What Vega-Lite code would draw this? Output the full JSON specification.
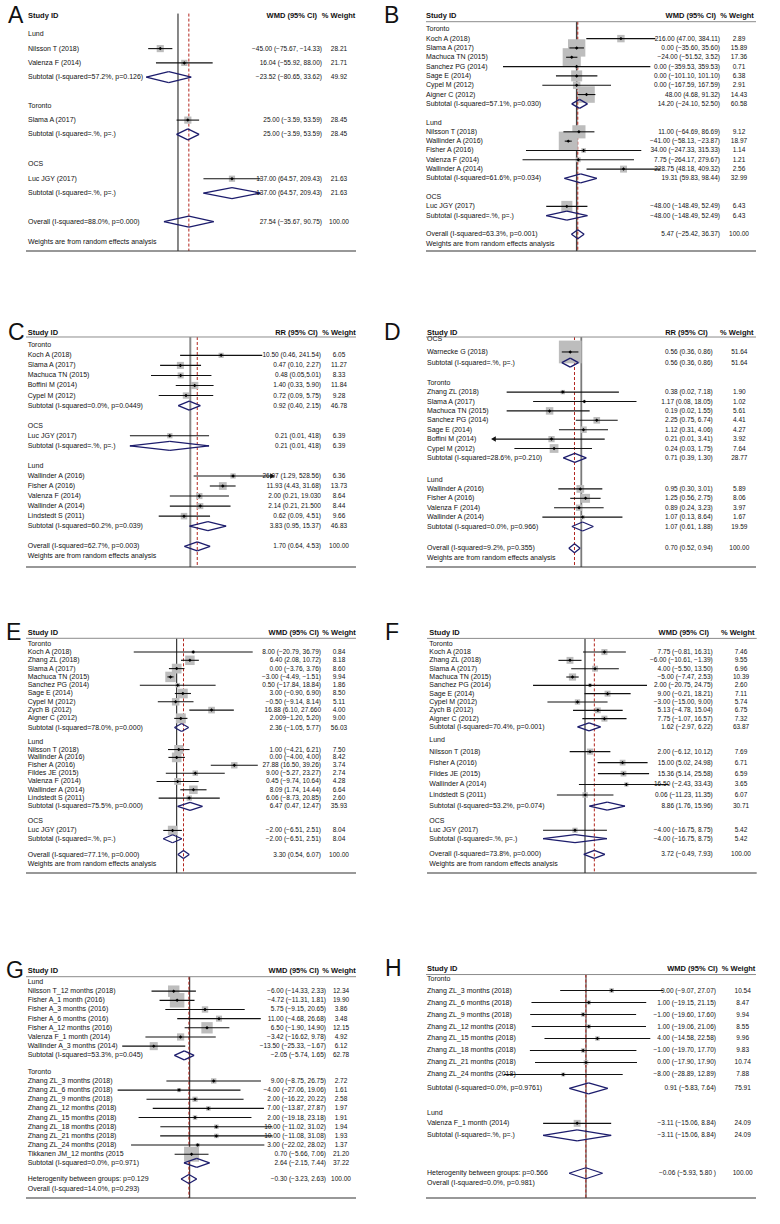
{
"$schema":"https://vega.github.io/schema/vega-lite/v6.json",
"background":"white",
"padding":0,
"autosize":{"type":"pad"},
"bounds":"flush",
"spacing":0,
"columns":2,
"resolve":{"scale":{"size":"independent","x":"independent","y":"independent"}},
"config":{
 "view":{"stroke":"transparent"},
 "text":{"font":"Liberation Sans, Arial, sans-serif","fontSize":6.5,"baseline":"middle","color":"#111"},
 "axis":{"labelFont":"Liberation Sans, Arial, sans-serif","labelFontSize":8.5,"labelColor":"#111","tickColor":"#333","tickSize":5,"labelPadding":4,"domain":false,"grid":false},
 "rule":{"color":"#111","strokeWidth":1.1},
 "point":{"filled":true,"opacity":1}
},
"concat":[
{"width":390,"height":250,
"data":{"values":[
{"row":-1.28,"kind":"header","label":"Study ID","ci":"WMD (95% CI)","wh":"% Weight","panel":"A"},
{"row":0,"kind":"group","label":"Lund"},
{"row":1,"kind":"study","label":"Nilsson T (2018)","est":-45,"lo":-75.67,"hi":-14.33,"w":28.21,"ci":"−45.00 (−75.67, −14.33)"},
{"row":2,"kind":"study","label":"Valenza F (2014)","est":16.04,"lo":-55.92,"hi":88,"w":21.71,"ci":"16.04 (−55.92, 88.00)"},
{"row":3,"kind":"sub","label":"Subtotal (I-squared=57.2%, p=0.126)","est":-23.52,"lo":-80.65,"hi":33.62,"w":49.92,"ci":"−23.52 (−80.65, 33.62)"},
{"row":5,"kind":"group","label":"Toronto"},
{"row":6,"kind":"study","label":"Slama A (2017)","est":25,"lo":-3.59,"hi":53.59,"w":28.45,"ci":"25.00 (−3.59, 53.59)"},
{"row":7,"kind":"sub","label":"Subtotal (I-squared=.%, p=.)","est":25,"lo":-3.59,"hi":53.59,"w":28.45,"ci":"25.00 (−3.59, 53.59)"},
{"row":9.1,"kind":"group","label":"OCS"},
{"row":10.1,"kind":"study","label":"Luc JGY (2017)","est":137,"lo":64.57,"hi":209.43,"w":21.63,"ci":"137.00 (64.57, 209.43)"},
{"row":11.1,"kind":"sub","label":"Subtotal (I-squared=.%, p=.)","est":137,"lo":64.57,"hi":209.43,"w":21.63,"ci":"137.00 (64.57, 209.43)"},
{"row":13.1,"kind":"overall","label":"Overall  (I-squared=88.0%, p=0.000)","est":27.54,"lo":-35.67,"hi":90.75,"w":100,"ci":"27.54 (−35.67, 90.75)"},
{"row":14.5,"kind":"note","label":"Weights are from random effects analysis"}
]},
"encoding":{"y":{"field":"row","type":"quantitative","axis":null,"scale":{"domain":[-2.329,15.154],"reverse":true,"nice":false,"zero":false}}},
"layer":[
{"transform":[{"filter":"datum.kind=='overall'"}],"mark":{"type":"rule","color":"#111","strokeWidth":1},"encoding":{"x":{"datum":0,"type":"quantitative","scale":{"domain":[-449.2,540.6],"nice":false,"zero":false},"axis":{"values":[-209,0,209],"title":null,"labelExpr":"format(datum.value,'d')"}},"y":{"datum":-1.45,"type":"quantitative","axis":null},"y2":{"datum":15.154}}},
{"transform":[{"filter":"datum.kind=='overall'"}],"mark":{"type":"rule","color":"#b3261e","strokeWidth":1,"strokeDash":[3,2]},"encoding":{"x":{"field":"est","type":"quantitative","axis":null},"y":{"datum":-1.45,"type":"quantitative","axis":null},"y2":{"datum":15.154}}},
{"transform":[{"filter":"datum.kind=='header'"}],"mark":{"type":"rule","color":"#333","strokeWidth":1.2},"encoding":{"x":{"datum":-385.8,"type":"quantitative","axis":null},"x2":{"datum":451.8},"y":{"datum":15.154,"type":"quantitative","axis":null}}},
{"transform":[{"filter":"datum.kind=='study'"}],"mark":{"type":"point","shape":"square","color":"#bdbdbd"},"encoding":{"x":{"field":"est","type":"quantitative","axis":null},"size":{"field":"w","type":"quantitative","legend":null,"scale":{"domain":[0,100],"range":[0,180]}}}},
{"transform":[{"filter":"datum.kind=='study'"}],"mark":{"type":"rule"},"encoding":{"x":{"field":"lo","type":"quantitative","axis":null},"x2":{"field":"hi"}}},
{"transform":[{"filter":"datum.kind=='study'"}],"mark":{"type":"point","shape":"diamond","color":"#000","size":12},"encoding":{"x":{"field":"est","type":"quantitative","axis":null}}},
{"transform":[{"filter":"datum.kind=='sub'||datum.kind=='overall'"}],"mark":{"type":"rule","color":"#1c1c6c","strokeWidth":1.3,"y2Offset":-5.5},"encoding":{"x":{"field":"lo","type":"quantitative","axis":null},"x2":{"field":"est"},"y2":{"field":"row"}}},
{"transform":[{"filter":"datum.kind=='sub'||datum.kind=='overall'"}],"mark":{"type":"rule","color":"#1c1c6c","strokeWidth":1.3,"yOffset":-5.5},"encoding":{"x":{"field":"est","type":"quantitative","axis":null},"x2":{"field":"hi"},"y2":{"field":"row"}}},
{"transform":[{"filter":"datum.kind=='sub'||datum.kind=='overall'"}],"mark":{"type":"rule","color":"#1c1c6c","strokeWidth":1.3,"y2Offset":5.5},"encoding":{"x":{"field":"hi","type":"quantitative","axis":null},"x2":{"field":"est"},"y2":{"field":"row"}}},
{"transform":[{"filter":"datum.kind=='sub'||datum.kind=='overall'"}],"mark":{"type":"rule","color":"#1c1c6c","strokeWidth":1.3,"yOffset":5.5},"encoding":{"x":{"field":"est","type":"quantitative","axis":null},"x2":{"field":"lo"},"y2":{"field":"row"}}},
{"transform":[{"filter":"datum.kind!='header'"}],"mark":{"type":"text","align":"left","fontSize":7},"encoding":{"x":{"datum":-380.7,"type":"quantitative","axis":null},"text":{"field":"label"}}},
{"transform":[{"filter":"isValid(datum.ci)&&datum.kind!='header'"}],"mark":{"type":"text","align":"right"},"encoding":{"x":{"datum":365.5,"type":"quantitative","axis":null},"text":{"field":"ci"}}},
{"transform":[{"filter":"isValid(datum.w)"}],"mark":{"type":"text","align":"center"},"encoding":{"x":{"datum":408.6,"type":"quantitative","axis":null},"text":{"field":"w","type":"quantitative","format":".2f"}}},
{"transform":[{"filter":"datum.kind=='header'"}],"mark":{"type":"text","align":"left","fontWeight":"bold","fontSize":7.5},"encoding":{"x":{"datum":-380.7,"type":"quantitative","axis":null},"text":{"field":"label"}}},
{"transform":[{"filter":"datum.kind=='header'"}],"mark":{"type":"text","align":"right","fontWeight":"bold","fontSize":7.5},"encoding":{"x":{"datum":352.8,"type":"quantitative","axis":null},"text":{"field":"ci"}}},
{"transform":[{"filter":"datum.kind=='header'"}],"mark":{"type":"text","align":"center","fontWeight":"bold","fontSize":7.5},"encoding":{"x":{"datum":407.4,"type":"quantitative","axis":null},"text":{"field":"wh"}}},
{"transform":[{"filter":"datum.kind=='header'"}],"mark":{"type":"text","align":"left","fontSize":23},"encoding":{"x":{"datum":-431.5,"type":"quantitative","axis":null},"text":{"field":"panel"}}}
]},
{"width":390,"height":250,
"data":{"values":[
{"row":-1.43,"kind":"header","label":"Study ID","ci":"WMD (95% CI)","wh":"% Weight","panel":"B"},
{"row":0,"kind":"group","label":"Toronto"},
{"row":1,"kind":"study","label":"Koch A (2018)","est":216,"lo":47,"hi":384.11,"w":2.89,"ci":"216.00 (47.00, 384.11)"},
{"row":2,"kind":"study","label":"Slama A (2017)","est":0,"lo":-35.6,"hi":35.6,"w":15.89,"ci":"0.00 (−35.60, 35.60)"},
{"row":3,"kind":"study","label":"Machuca TN (2015)","est":-24,"lo":-51.52,"hi":3.52,"w":17.36,"ci":"−24.00 (−51.52, 3.52)"},
{"row":4,"kind":"study","label":"Sanchez PG (2014)","est":0,"lo":-359.53,"hi":359.53,"w":0.71,"ci":"0.00 (−359.53, 359.53)"},
{"row":5,"kind":"study","label":"Sage E (2014)","est":0,"lo":-101.1,"hi":101.1,"w":6.38,"ci":"0.00 (−101.10, 101.10)"},
{"row":6,"kind":"study","label":"Cypel M (2012)","est":0,"lo":-167.59,"hi":167.59,"w":2.91,"ci":"0.00 (−167.59, 167.59)"},
{"row":7,"kind":"study","label":"Aigner C (2012)","est":48,"lo":4.68,"hi":91.32,"w":14.43,"ci":"48.00 (4.68, 91.32)"},
{"row":8,"kind":"sub","label":"Subtotal (I-squared=57.1%, p=0.030)","est":14.2,"lo":-24.1,"hi":52.5,"w":60.58,"ci":"14.20 (−24.10, 52.50)"},
{"row":10,"kind":"group","label":"Lund"},
{"row":11,"kind":"study","label":"Nilsson T (2018)","est":11,"lo":-64.69,"hi":86.69,"w":9.12,"ci":"11.00 (−64.69, 86.69)"},
{"row":12,"kind":"study","label":"Wallinder A (2016)","est":-41,"lo":-58.13,"hi":-23.87,"w":18.97,"ci":"−41.00 (−58.13, −23.87)"},
{"row":13,"kind":"study","label":"Fisher A (2016)","est":34,"lo":-247.33,"hi":315.33,"w":1.14,"ci":"34.00 (−247.33, 315.33)"},
{"row":14,"kind":"study","label":"Valenza F (2014)","est":7.75,"lo":-264.17,"hi":279.67,"w":1.21,"ci":"7.75 (−264.17, 279.67)"},
{"row":15,"kind":"study","label":"Wallinder A (2014)","est":228.75,"lo":48.18,"hi":409.32,"w":2.56,"ci":"228.75 (48.18, 409.32)"},
{"row":16,"kind":"sub","label":"Subtotal (I-squared=61.6%, p=0.034)","est":19.31,"lo":-59.83,"hi":98.44,"w":32.99,"ci":"19.31 (59.83, 98.44)"},
{"row":18,"kind":"group","label":"OCS"},
{"row":19,"kind":"study","label":"Luc JGY (2017)","est":-48,"lo":-148.49,"hi":52.49,"w":6.43,"ci":"−48.00 (−148.49, 52.49)"},
{"row":20,"kind":"sub","label":"Subtotal (I-squared=.%, p=.)","est":-48,"lo":-148.49,"hi":52.49,"w":6.43,"ci":"−48.00 (−148.49, 52.49)"},
{"row":22,"kind":"overall","label":"Overall  (I-squared=63.3%, p=0.001)","est":5.47,"lo":-25.42,"hi":36.37,"w":100,"ci":"5.47 (−25.42, 36.37)"},
{"row":23,"kind":"note","label":"Weights are from random effects analysis"}
]},
"encoding":{"y":{"field":"row","type":"quantitative","axis":null,"scale":{"domain":[-3.036,23.787],"reverse":true,"nice":false,"zero":false}}},
"layer":[
{"transform":[{"filter":"datum.kind=='overall'"}],"mark":{"type":"rule","color":"#444","strokeWidth":1.5},"encoding":{"x":{"datum":0,"type":"quantitative","scale":{"domain":[-906.1,997.2],"nice":false,"zero":false},"axis":{"values":[-409,0,409],"title":null,"labelExpr":"format(datum.value,'d')"}},"y":{"datum":-0.815,"type":"quantitative","axis":null},"y2":{"datum":23.787}}},
{"transform":[{"filter":"datum.kind=='overall'"}],"mark":{"type":"rule","color":"#b3261e","strokeWidth":1,"strokeDash":[3,2]},"encoding":{"x":{"field":"est","type":"quantitative","axis":null},"y":{"datum":-0.815,"type":"quantitative","axis":null},"y2":{"datum":23.787}}},
{"transform":[{"filter":"datum.kind=='header'"}],"mark":{"type":"rule","color":"#8c8c8c","strokeWidth":1},"encoding":{"x":{"datum":-735.3,"type":"quantitative","axis":null},"x2":{"datum":875.2},"y":{"datum":-0.815,"type":"quantitative","axis":null}}},
{"transform":[{"filter":"datum.kind=='header'"}],"mark":{"type":"rule","color":"#333","strokeWidth":1.2},"encoding":{"x":{"datum":-735.3,"type":"quantitative","axis":null},"x2":{"datum":875.2},"y":{"datum":23.787,"type":"quantitative","axis":null}}},
{"transform":[{"filter":"datum.kind=='study'"}],"mark":{"type":"point","shape":"square","color":"#bdbdbd"},"encoding":{"x":{"field":"est","type":"quantitative","axis":null},"size":{"field":"w","type":"quantitative","legend":null,"scale":{"domain":[0,100],"range":[0,1900]}}}},
{"transform":[{"filter":"datum.kind=='study'"}],"mark":{"type":"rule"},"encoding":{"x":{"field":"lo","type":"quantitative","axis":null},"x2":{"field":"hi"}}},
{"transform":[{"filter":"datum.kind=='study'"}],"mark":{"type":"point","shape":"diamond","color":"#000","size":12},"encoding":{"x":{"field":"est","type":"quantitative","axis":null}}},
{"transform":[{"filter":"datum.kind=='sub'||datum.kind=='overall'"}],"mark":{"type":"rule","color":"#1c1c6c","strokeWidth":1.3,"y2Offset":-4.5},"encoding":{"x":{"field":"lo","type":"quantitative","axis":null},"x2":{"field":"est"},"y2":{"field":"row"}}},
{"transform":[{"filter":"datum.kind=='sub'||datum.kind=='overall'"}],"mark":{"type":"rule","color":"#1c1c6c","strokeWidth":1.3,"yOffset":-4.5},"encoding":{"x":{"field":"est","type":"quantitative","axis":null},"x2":{"field":"hi"},"y2":{"field":"row"}}},
{"transform":[{"filter":"datum.kind=='sub'||datum.kind=='overall'"}],"mark":{"type":"rule","color":"#1c1c6c","strokeWidth":1.3,"y2Offset":4.5},"encoding":{"x":{"field":"hi","type":"quantitative","axis":null},"x2":{"field":"est"},"y2":{"field":"row"}}},
{"transform":[{"filter":"datum.kind=='sub'||datum.kind=='overall'"}],"mark":{"type":"rule","color":"#1c1c6c","strokeWidth":1.3,"yOffset":4.5},"encoding":{"x":{"field":"est","type":"quantitative","axis":null},"x2":{"field":"lo"},"y2":{"field":"row"}}},
{"transform":[{"filter":"datum.kind!='header'"}],"mark":{"type":"text","align":"left","fontSize":7},"encoding":{"x":{"datum":-735.3,"type":"quantitative","axis":null},"text":{"field":"label"}}},
{"transform":[{"filter":"isValid(datum.ci)&&datum.kind!='header'"}],"mark":{"type":"text","align":"right"},"encoding":{"x":{"datum":699.5,"type":"quantitative","axis":null},"text":{"field":"ci"}}},
{"transform":[{"filter":"isValid(datum.w)"}],"mark":{"type":"text","align":"center"},"encoding":{"x":{"datum":792.2,"type":"quantitative","axis":null},"text":{"field":"w","type":"quantitative","format":".2f"}}},
{"transform":[{"filter":"datum.kind=='header'"}],"mark":{"type":"text","align":"left","fontWeight":"bold","fontSize":7.5},"encoding":{"x":{"datum":-735.3,"type":"quantitative","axis":null},"text":{"field":"label"}}},
{"transform":[{"filter":"datum.kind=='header'"}],"mark":{"type":"text","align":"right","fontWeight":"bold","fontSize":7.5},"encoding":{"x":{"datum":680,"type":"quantitative","axis":null},"text":{"field":"ci"}}},
{"transform":[{"filter":"datum.kind=='header'"}],"mark":{"type":"text","align":"center","fontWeight":"bold","fontSize":7.5},"encoding":{"x":{"datum":782.5,"type":"quantitative","axis":null},"text":{"field":"wh"}}},
{"transform":[{"filter":"datum.kind=='header'"}],"mark":{"type":"text","align":"left","fontSize":23},"encoding":{"x":{"datum":-940.3,"type":"quantitative","axis":null},"text":{"field":"panel"}}}
]},
{"width":390,"height":316,
"data":{"values":[
{"row":-1.254,"kind":"header","label":"Study ID","ci":"RR (95% CI)","wh":"% Weight","panel":"C"},
{"row":0,"kind":"group","label":"Toronto"},
{"row":1,"kind":"study","label":"Koch A (2018)","est":10.5,"lo":0.46,"hi":241.54,"w":6.05,"ci":"10.50 (0.46, 241.54)"},
{"row":2,"kind":"study","label":"Slama A (2017)","est":0.47,"lo":0.1,"hi":2.27,"w":11.27,"ci":"0.47 (0.10, 2.27)"},
{"row":3,"kind":"study","label":"Machuca TN (2015)","est":0.48,"lo":0.05,"hi":5.01,"w":8.33,"ci":"0.48 (0.05,5.01)"},
{"row":4,"kind":"study","label":"Boffini M (2014)","est":1.4,"lo":0.33,"hi":5.9,"w":11.84,"ci":"1.40 (0.33, 5.90)"},
{"row":5,"kind":"study","label":"Cypel M (2012)","est":0.72,"lo":0.09,"hi":5.75,"w":9.28,"ci":"0.72 (0.09, 5.75)"},
{"row":6,"kind":"sub","label":"Subtotal (I-squared=0.0%, p=0.0449)","est":0.92,"lo":0.4,"hi":2.15,"w":46.78,"ci":"0.92 (0.40, 2.15)"},
{"row":8,"kind":"group","label":"OCS"},
{"row":9,"kind":"study","label":"Luc JGY (2017)","est":0.21,"lo":0.01,"hi":4.18,"w":6.39,"ci":"0.21 (0.01, 418)"},
{"row":10,"kind":"sub","label":"Subtotal (I-squared=.%, p=.)","est":0.21,"lo":0.01,"hi":4.18,"w":6.39,"ci":"0.21 (0.01, 418)"},
{"row":12,"kind":"group","label":"Lund"},
{"row":13,"kind":"study","label":"Wallinder A (2016)","est":26.07,"lo":1.29,"hi":528.56,"w":6.36,"ci":"26.07 (1.29, 528.56)","trunc":"right"},
{"row":14,"kind":"study","label":"Fisher A (2016)","est":11.93,"lo":4.43,"hi":31.68,"w":13.73,"ci":"11.93 (4.43, 31.68)"},
{"row":15,"kind":"study","label":"Valenza F (2014)","est":2,"lo":0.21,"hi":19.03,"w":8.64,"ci":"2.00 (0.21, 19.030"},
{"row":16,"kind":"study","label":"Wallinder A (2014)","est":2.14,"lo":0.21,"hi":21.5,"w":8.44,"ci":"2.14 (0.21, 21.500"},
{"row":17,"kind":"study","label":"Lindstedt S (2011)","est":0.62,"lo":0.09,"hi":4.51,"w":9.66,"ci":"0.62 (0.09, 4.51)"},
{"row":18,"kind":"sub","label":"Subtotal (I-squared=60.2%, p=0.039)","est":3.83,"lo":0.95,"hi":15.37,"w":46.83,"ci":"3.83 (0.95, 15.37)"},
{"row":20,"kind":"overall","label":"Overall  (I-squared=62.7%, p=0.003)","est":1.7,"lo":0.64,"hi":4.53,"w":100,"ci":"1.70 (0.64, 4.53)"},
{"row":21,"kind":"note","label":"Weights are from random effects analysis"}
]},
"encoding":{"y":{"field":"row","type":"quantitative","axis":null,"scale":{"domain":[-9.383,22.06],"reverse":true,"nice":false,"zero":false}}},
"layer":[
{"transform":[{"filter":"datum.kind=='overall'"}],"mark":{"type":"rule","color":"#8a8a8a","strokeWidth":2},"encoding":{"x":{"datum":1,"type":"quantitative","scale":{"type":"log","domain":[5.39e-7,4.43e6],"nice":false,"zero":false},"axis":{"values":[0.00189,1,529],"title":null,"labelExpr":"datum.value<0.01?'.00189':datum.value<2?'1':'529'"}},"y":{"datum":-0.826,"type":"quantitative","axis":null},"y2":{"datum":22.06}}},
{"transform":[{"filter":"datum.kind=='overall'"}],"mark":{"type":"rule","color":"#b3261e","strokeWidth":1,"strokeDash":[3,2]},"encoding":{"x":{"field":"est","type":"quantitative","axis":null},"y":{"datum":-0.826,"type":"quantitative","axis":null},"y2":{"datum":22.06}}},
{"transform":[{"filter":"datum.kind=='header'"}],"mark":{"type":"rule","color":"#8c8c8c","strokeWidth":1},"encoding":{"x":{"datum":3.63e-6,"type":"quantitative","axis":null},"x2":{"datum":306900},"y":{"datum":-0.826,"type":"quantitative","axis":null}}},
{"transform":[{"filter":"datum.kind=='header'"}],"mark":{"type":"rule","color":"#333","strokeWidth":1.2},"encoding":{"x":{"datum":3.63e-6,"type":"quantitative","axis":null},"x2":{"datum":306900},"y":{"datum":22.06,"type":"quantitative","axis":null}}},
{"transform":[{"filter":"datum.kind=='study'"}],"mark":{"type":"point","shape":"square","color":"#bdbdbd"},"encoding":{"x":{"field":"est","type":"quantitative","axis":null},"size":{"field":"w","type":"quantitative","legend":null,"scale":{"domain":[0,100],"range":[0,440]}}}},
{"transform":[{"filter":"datum.kind=='study'"}],"mark":{"type":"rule"},"encoding":{"x":{"field":"lo","type":"quantitative","axis":null},"x2":{"field":"hi"}}},
{"transform":[{"filter":"datum.kind=='study'"}],"mark":{"type":"point","shape":"diamond","color":"#000","size":12},"encoding":{"x":{"field":"est","type":"quantitative","axis":null}}},
{"transform":[{"filter":"datum.trunc=='right'"}],"mark":{"type":"point","shape":"triangle-right","color":"#111","size":30},"encoding":{"x":{"field":"hi","type":"quantitative","axis":null}}},
{"transform":[{"filter":"datum.kind=='sub'||datum.kind=='overall'"}],"mark":{"type":"rule","color":"#1c1c6c","strokeWidth":1.3,"y2Offset":-4.5},"encoding":{"x":{"field":"lo","type":"quantitative","axis":null},"x2":{"field":"est"},"y2":{"field":"row"}}},
{"transform":[{"filter":"datum.kind=='sub'||datum.kind=='overall'"}],"mark":{"type":"rule","color":"#1c1c6c","strokeWidth":1.3,"yOffset":-4.5},"encoding":{"x":{"field":"est","type":"quantitative","axis":null},"x2":{"field":"hi"},"y2":{"field":"row"}}},
{"transform":[{"filter":"datum.kind=='sub'||datum.kind=='overall'"}],"mark":{"type":"rule","color":"#1c1c6c","strokeWidth":1.3,"y2Offset":4.5},"encoding":{"x":{"field":"hi","type":"quantitative","axis":null},"x2":{"field":"est"},"y2":{"field":"row"}}},
{"transform":[{"filter":"datum.kind=='sub'||datum.kind=='overall'"}],"mark":{"type":"rule","color":"#1c1c6c","strokeWidth":1.3,"yOffset":4.5},"encoding":{"x":{"field":"est","type":"quantitative","axis":null},"x2":{"field":"lo"},"y2":{"field":"row"}}},
{"transform":[{"filter":"datum.kind!='header'"}],"mark":{"type":"text","align":"left","fontSize":7},"encoding":{"x":{"datum":4.13e-6,"type":"quantitative","axis":null},"text":{"field":"label"}}},
{"transform":[{"filter":"isValid(datum.ci)&&datum.kind!='header'"}],"mark":{"type":"text","align":"right"},"encoding":{"x":{"datum":21280,"type":"quantitative","axis":null},"text":{"field":"ci"}}},
{"transform":[{"filter":"isValid(datum.w)"}],"mark":{"type":"text","align":"center"},"encoding":{"x":{"datum":83950,"type":"quantitative","axis":null},"text":{"field":"w","type":"quantitative","format":".2f"}}},
{"transform":[{"filter":"datum.kind=='header'"}],"mark":{"type":"text","align":"left","fontWeight":"bold","fontSize":7.5},"encoding":{"x":{"datum":4.13e-6,"type":"quantitative","axis":null},"text":{"field":"label"}}},
{"transform":[{"filter":"datum.kind=='header'"}],"mark":{"type":"text","align":"right","fontWeight":"bold","fontSize":7.5},"encoding":{"x":{"datum":16540,"type":"quantitative","axis":null},"text":{"field":"ci"}}},
{"transform":[{"filter":"datum.kind=='header'"}],"mark":{"type":"text","align":"center","fontWeight":"bold","fontSize":7.5},"encoding":{"x":{"datum":83950,"type":"quantitative","axis":null},"text":{"field":"wh"}}},
{"transform":[{"filter":"datum.kind=='header'"}],"mark":{"type":"text","align":"left","fontSize":23},"encoding":{"x":{"datum":9.2e-7,"type":"quantitative","axis":null},"text":{"field":"panel"}}}
]},
{"width":390,"height":316,
"data":{"values":[
{"row":-5.32,"kind":"header","label":"Study ID","ci":"RR (95% CI)","wh":"% Weight","panel":"D"},
{"row":-4.62,"kind":"group","label":"OCS"},
{"row":-3.27,"kind":"study","label":"Warnecke G (2018)","est":0.56,"lo":0.36,"hi":0.86,"w":51.64,"ci":"0.56 (0.36, 0.86)"},
{"row":-2.13,"kind":"sub","label":"Subtotal (I-squared=.%, p=.)","est":0.56,"lo":0.36,"hi":0.86,"w":51.64,"ci":"0.56 (0.36, 0.86)"},
{"row":0,"kind":"group","label":"Toronto"},
{"row":1,"kind":"study","label":"Zhang ZL (2018)","est":0.38,"lo":0.02,"hi":7.18,"w":1.9,"ci":"0.38 (0.02, 7.18)"},
{"row":2,"kind":"study","label":"Slama A (2017)","est":1.17,"lo":0.08,"hi":18.05,"w":1.02,"ci":"1.17 (0.08, 18.05)"},
{"row":3,"kind":"study","label":"Machuca TN (2015)","est":0.19,"lo":0.02,"hi":1.55,"w":5.61,"ci":"0.19 (0.02, 1.55)"},
{"row":4,"kind":"study","label":"Sanchez PG (2014)","est":2.25,"lo":0.75,"hi":6.74,"w":4.41,"ci":"2.25 (0.75, 6.74)"},
{"row":5,"kind":"study","label":"Sage E (2014)","est":1.12,"lo":0.31,"hi":4.06,"w":4.27,"ci":"1.12 (0.31, 4.06)"},
{"row":6,"kind":"study","label":"Boffini M (2014)","est":0.21,"lo":0.01,"hi":3.41,"w":3.92,"ci":"0.21 (0.01, 3.41)","trunc":"left"},
{"row":7,"kind":"study","label":"Cypel M (2012)","est":0.24,"lo":0.03,"hi":1.75,"w":7.64,"ci":"0.24 (0.03, 1.75)"},
{"row":8,"kind":"sub","label":"Subtotal (I-squared=28.6%, p=0.210)","est":0.71,"lo":0.39,"hi":1.3,"w":28.77,"ci":"0.71 (0.39, 1.30)"},
{"row":10.3,"kind":"group","label":"Lund"},
{"row":11.3,"kind":"study","label":"Wallinder A (2016)","est":0.95,"lo":0.3,"hi":3.01,"w":5.89,"ci":"0.95 (0.30, 3.01)"},
{"row":12.3,"kind":"study","label":"Fisher A (2016)","est":1.25,"lo":0.56,"hi":2.75,"w":8.06,"ci":"1.25 (0.56, 2.75)"},
{"row":13.3,"kind":"study","label":"Valenza F (2014)","est":0.89,"lo":0.24,"hi":3.23,"w":3.97,"ci":"0.89 (0.24, 3.23)"},
{"row":14.3,"kind":"study","label":"Wallinder A (2014)","est":1.07,"lo":0.13,"hi":8.64,"w":1.67,"ci":"1.07 (0.13, 8.64)"},
{"row":15.3,"kind":"sub","label":"Subtotal (I-squared=0.0%, p=0.966)","est":1.07,"lo":0.61,"hi":1.88,"w":19.59,"ci":"1.07 (0.61, 1.88)"},
{"row":17.6,"kind":"overall","label":"Overall  (I-squared=9.2%, p=0.355)","est":0.7,"lo":0.52,"hi":0.94,"w":100,"ci":"0.70 (0.52, 0.94)"},
{"row":18.66,"kind":"note","label":"Weights are from random effects analysis"}
]},
"encoding":{"y":{"field":"row","type":"quantitative","axis":null,"scale":{"domain":[-14.011,19.606],"reverse":true,"nice":false,"zero":false}}},
"layer":[
{"transform":[{"filter":"datum.kind=='overall'"}],"mark":{"type":"rule","color":"#7a7a7a","strokeWidth":1.8},"encoding":{"x":{"datum":1,"type":"quantitative","scale":{"type":"log","domain":[4.66e-5,35150],"nice":false,"zero":false},"axis":{"values":[0.0136,1,73.8],"title":null,"labelExpr":"datum.value<0.1?'.0136':datum.value<2?'1':'73.8'"}},"y":{"datum":-4.86,"type":"quantitative","axis":null},"y2":{"datum":19.606}}},
{"transform":[{"filter":"datum.kind=='overall'"}],"mark":{"type":"rule","color":"#b3261e","strokeWidth":1,"strokeDash":[3,2]},"encoding":{"x":{"field":"est","type":"quantitative","axis":null},"y":{"datum":-4.86,"type":"quantitative","axis":null},"y2":{"datum":19.606}}},
{"transform":[{"filter":"datum.kind=='header'"}],"mark":{"type":"rule","color":"#8c8c8c","strokeWidth":1},"encoding":{"x":{"datum":2.92e-4,"type":"quantitative","axis":null},"x2":{"datum":9480},"y":{"datum":-4.86,"type":"quantitative","axis":null}}},
{"transform":[{"filter":"datum.kind=='header'"}],"mark":{"type":"rule","color":"#333","strokeWidth":1.2},"encoding":{"x":{"datum":2.92e-4,"type":"quantitative","axis":null},"x2":{"datum":9480},"y":{"datum":19.606,"type":"quantitative","axis":null}}},
{"transform":[{"filter":"datum.kind=='study'"}],"mark":{"type":"point","shape":"square","color":"#bdbdbd"},"encoding":{"x":{"field":"est","type":"quantitative","axis":null},"size":{"field":"w","type":"quantitative","legend":null,"scale":{"domain":[0,100],"range":[0,1000]}}}},
{"transform":[{"filter":"datum.kind=='study'"}],"mark":{"type":"rule"},"encoding":{"x":{"field":"lo","type":"quantitative","axis":null},"x2":{"field":"hi"}}},
{"transform":[{"filter":"datum.kind=='study'"}],"mark":{"type":"point","shape":"diamond","color":"#000","size":12},"encoding":{"x":{"field":"est","type":"quantitative","axis":null}}},
{"transform":[{"filter":"datum.trunc=='left'"}],"mark":{"type":"point","shape":"triangle-left","color":"#111","size":30},"encoding":{"x":{"field":"lo","type":"quantitative","axis":null}}},
{"transform":[{"filter":"datum.kind=='sub'||datum.kind=='overall'"}],"mark":{"type":"rule","color":"#1c1c6c","strokeWidth":1.3,"y2Offset":-4.5},"encoding":{"x":{"field":"lo","type":"quantitative","axis":null},"x2":{"field":"est"},"y2":{"field":"row"}}},
{"transform":[{"filter":"datum.kind=='sub'||datum.kind=='overall'"}],"mark":{"type":"rule","color":"#1c1c6c","strokeWidth":1.3,"yOffset":-4.5},"encoding":{"x":{"field":"est","type":"quantitative","axis":null},"x2":{"field":"hi"},"y2":{"field":"row"}}},
{"transform":[{"filter":"datum.kind=='sub'||datum.kind=='overall'"}],"mark":{"type":"rule","color":"#1c1c6c","strokeWidth":1.3,"y2Offset":4.5},"encoding":{"x":{"field":"hi","type":"quantitative","axis":null},"x2":{"field":"est"},"y2":{"field":"row"}}},
{"transform":[{"filter":"datum.kind=='sub'||datum.kind=='overall'"}],"mark":{"type":"rule","color":"#1c1c6c","strokeWidth":1.3,"yOffset":4.5},"encoding":{"x":{"field":"est","type":"quantitative","axis":null},"x2":{"field":"lo"},"y2":{"field":"row"}}},
{"transform":[{"filter":"datum.kind!='header'"}],"mark":{"type":"text","align":"left","fontSize":7},"encoding":{"x":{"datum":3.07e-4,"type":"quantitative","axis":null},"text":{"field":"label"}}},
{"transform":[{"filter":"isValid(datum.ci)&&datum.kind!='header'"}],"mark":{"type":"text","align":"right"},"encoding":{"x":{"datum":979.5,"type":"quantitative","axis":null},"text":{"field":"ci"}}},
{"transform":[{"filter":"isValid(datum.w)"}],"mark":{"type":"text","align":"center"},"encoding":{"x":{"datum":3953,"type":"quantitative","axis":null},"text":{"field":"w","type":"quantitative","format":".2f"}}},
{"transform":[{"filter":"datum.kind=='header'"}],"mark":{"type":"text","align":"left","fontWeight":"bold","fontSize":7.5},"encoding":{"x":{"datum":3.07e-4,"type":"quantitative","axis":null},"text":{"field":"label"}}},
{"transform":[{"filter":"datum.kind=='header'"}],"mark":{"type":"text","align":"right","fontWeight":"bold","fontSize":7.5},"encoding":{"x":{"datum":753.5,"type":"quantitative","axis":null},"text":{"field":"ci"}}},
{"transform":[{"filter":"datum.kind=='header'"}],"mark":{"type":"text","align":"center","fontWeight":"bold","fontSize":7.5},"encoding":{"x":{"datum":3465,"type":"quantitative","axis":null},"text":{"field":"wh"}}},
{"transform":[{"filter":"datum.kind=='header'"}],"mark":{"type":"text","align":"left","fontSize":23},"encoding":{"x":{"datum":3.23e-5,"type":"quantitative","axis":null},"text":{"field":"panel"}}}
]},
{"width":390,"height":306,
"data":{"values":[
{"row":-1.253,"kind":"header","label":"Study ID","ci":"WMD (95% CI)","wh":"% Weight","panel":"E"},
{"row":0,"kind":"group","label":"Toronto"},
{"row":1,"kind":"study","label":"Koch A (2018)","est":8,"lo":-20.79,"hi":36.79,"w":0.84,"ci":"8.00 (−20.79, 36.79)"},
{"row":2,"kind":"study","label":"Zhang ZL (2018)","est":6.4,"lo":2.08,"hi":10.72,"w":8.18,"ci":"6.40 (2.08, 10.72)"},
{"row":3,"kind":"study","label":"Slama A (2017)","est":0,"lo":-3.76,"hi":3.76,"w":8.6,"ci":"0.00 (−3.76, 3.76)"},
{"row":4,"kind":"study","label":"Machuca TN (2015)","est":-3,"lo":-4.49,"hi":-1.51,"w":9.94,"ci":"−3.00 (−4.49, −1.51)"},
{"row":5,"kind":"study","label":"Sanchez PG (2014)","est":0.5,"lo":-17.84,"hi":18.84,"w":1.86,"ci":"0.50 (−17.84, 18.84)"},
{"row":6,"kind":"study","label":"Sage E (2014)","est":3,"lo":-0.9,"hi":6.9,"w":8.5,"ci":"3.00 (−0.90, 6.90)"},
{"row":7,"kind":"study","label":"Cypel M (2012)","est":-0.5,"lo":-9.14,"hi":8.14,"w":5.11,"ci":"−0.50 (−9.14, 8.14)"},
{"row":8,"kind":"study","label":"Zych B (2012)","est":16.88,"lo":6.1,"hi":27.66,"w":4,"ci":"16.88 (6.10, 27.660"},
{"row":9,"kind":"study","label":"Aigner C (2012)","est":2,"lo":-1.2,"hi":5.2,"w":9,"ci":"2.009−1.20, 5.20)"},
{"row":10.1,"kind":"sub","label":"Subtotal (I-squared=78.0%, p=0.000)","est":2.36,"lo":-1.05,"hi":5.77,"w":56.03,"ci":"2.36 (−1.05, 5.77)"},
{"row":11.8,"kind":"group","label":"Lund"},
{"row":12.75,"kind":"study","label":"Nilsson T (2018)","est":1,"lo":-4.21,"hi":6.21,"w":7.5,"ci":"1.00 (−4.21, 6.21)"},
{"row":13.7,"kind":"study","label":"Wallinder A (2016)","est":0,"lo":-4,"hi":4,"w":8.42,"ci":"0.00 (−4.00, 4.00)"},
{"row":14.65,"kind":"study","label":"Fisher A (2016)","est":27.88,"lo":16.5,"hi":39.26,"w":3.74,"ci":"27.88 (16.50, 39.26)"},
{"row":15.6,"kind":"study","label":"Fildes JE (2015)","est":9,"lo":-5.27,"hi":23.27,"w":2.74,"ci":"9.00 (−5.27, 23.27)"},
{"row":16.6,"kind":"study","label":"Valenza F (2014)","est":0.45,"lo":-9.74,"hi":10.64,"w":4.28,"ci":"0.45 (−9.74, 10.64)"},
{"row":17.6,"kind":"study","label":"Wallinder A (2014)","est":8.09,"lo":1.74,"hi":14.44,"w":6.64,"ci":"8.09 (1.74, 14.44)"},
{"row":18.6,"kind":"study","label":"Lindstedt S (2011)","est":6.06,"lo":-8.73,"hi":20.85,"w":2.6,"ci":"6.06 (−8.73, 20.85)"},
{"row":19.6,"kind":"sub","label":"Subtotal (I-squared=75.5%, p=0.000)","est":6.47,"lo":0.47,"hi":12.47,"w":35.93,"ci":"6.47 (0.47, 12.47)"},
{"row":21.4,"kind":"group","label":"OCS"},
{"row":22.5,"kind":"study","label":"Luc JGY (2017)","est":-2,"lo":-6.51,"hi":2.51,"w":8.04,"ci":"−2.00 (−6.51, 2.51)"},
{"row":23.5,"kind":"sub","label":"Subtotal (I-squared=.%, p=.)","est":-2,"lo":-6.51,"hi":2.51,"w":8.04,"ci":"−2.00 (−6.51, 2.51)"},
{"row":25.4,"kind":"overall","label":"Overall  (I-squared=77.1%, p=0.000)","est":3.3,"lo":0.54,"hi":6.07,"w":100,"ci":"3.30 (0.54, 6.07)"},
{"row":26.5,"kind":"note","label":"Weights are from random effects analysis"}
]},
"encoding":{"y":{"field":"row","type":"quantitative","axis":null,"scale":{"domain":[-9.241,27.627],"reverse":true,"nice":false,"zero":false}}},
"layer":[
{"transform":[{"filter":"datum.kind=='overall'"}],"mark":{"type":"rule","color":"#111","strokeWidth":1},"encoding":{"x":{"datum":0,"type":"quantitative","scale":{"domain":[-85.04,103.73],"nice":false,"zero":false},"axis":{"values":[-39.3,0,39.3],"title":null,"labelExpr":"datum.value==0?'0':format(datum.value,'.1f')"}},"y":{"datum":-0.651,"type":"quantitative","axis":null},"y2":{"datum":27.627}}},
{"transform":[{"filter":"datum.kind=='overall'"}],"mark":{"type":"rule","color":"#b3261e","strokeWidth":1,"strokeDash":[3,2]},"encoding":{"x":{"field":"est","type":"quantitative","axis":null},"y":{"datum":-0.651,"type":"quantitative","axis":null},"y2":{"datum":27.627}}},
{"transform":[{"filter":"datum.kind=='header'"}],"mark":{"type":"rule","color":"#8c8c8c","strokeWidth":1},"encoding":{"x":{"datum":-72.94,"type":"quantitative","axis":null},"x2":{"datum":86.79},"y":{"datum":-0.651,"type":"quantitative","axis":null}}},
{"transform":[{"filter":"datum.kind=='header'"}],"mark":{"type":"rule","color":"#333","strokeWidth":1.2},"encoding":{"x":{"datum":-72.94,"type":"quantitative","axis":null},"x2":{"datum":86.79},"y":{"datum":27.627,"type":"quantitative","axis":null}}},
{"transform":[{"filter":"datum.kind=='study'"}],"mark":{"type":"point","shape":"square","color":"#bdbdbd"},"encoding":{"x":{"field":"est","type":"quantitative","axis":null},"size":{"field":"w","type":"quantitative","legend":null,"scale":{"domain":[0,100],"range":[0,1100]}}}},
{"transform":[{"filter":"datum.kind=='study'"}],"mark":{"type":"rule"},"encoding":{"x":{"field":"lo","type":"quantitative","axis":null},"x2":{"field":"hi"}}},
{"transform":[{"filter":"datum.kind=='study'"}],"mark":{"type":"point","shape":"diamond","color":"#000","size":12},"encoding":{"x":{"field":"est","type":"quantitative","axis":null}}},
{"transform":[{"filter":"datum.kind=='sub'||datum.kind=='overall'"}],"mark":{"type":"rule","color":"#1c1c6c","strokeWidth":1.3,"y2Offset":-4},"encoding":{"x":{"field":"lo","type":"quantitative","axis":null},"x2":{"field":"est"},"y2":{"field":"row"}}},
{"transform":[{"filter":"datum.kind=='sub'||datum.kind=='overall'"}],"mark":{"type":"rule","color":"#1c1c6c","strokeWidth":1.3,"yOffset":-4},"encoding":{"x":{"field":"est","type":"quantitative","axis":null},"x2":{"field":"hi"},"y2":{"field":"row"}}},
{"transform":[{"filter":"datum.kind=='sub'||datum.kind=='overall'"}],"mark":{"type":"rule","color":"#1c1c6c","strokeWidth":1.3,"y2Offset":4},"encoding":{"x":{"field":"hi","type":"quantitative","axis":null},"x2":{"field":"est"},"y2":{"field":"row"}}},
{"transform":[{"filter":"datum.kind=='sub'||datum.kind=='overall'"}],"mark":{"type":"rule","color":"#1c1c6c","strokeWidth":1.3,"yOffset":4},"encoding":{"x":{"field":"est","type":"quantitative","axis":null},"x2":{"field":"lo"},"y2":{"field":"row"}}},
{"transform":[{"filter":"datum.kind!='header'"}],"mark":{"type":"text","align":"left","fontSize":7},"encoding":{"x":{"datum":-72.12,"type":"quantitative","axis":null},"text":{"field":"label"}}},
{"transform":[{"filter":"isValid(datum.ci)&&datum.kind!='header'"}],"mark":{"type":"text","align":"right"},"encoding":{"x":{"datum":69.85,"type":"quantitative","axis":null},"text":{"field":"ci"}}},
{"transform":[{"filter":"isValid(datum.w)"}],"mark":{"type":"text","align":"center"},"encoding":{"x":{"datum":78.56,"type":"quantitative","axis":null},"text":{"field":"w","type":"quantitative","format":".2f"}}},
{"transform":[{"filter":"datum.kind=='header'"}],"mark":{"type":"text","align":"left","fontWeight":"bold","fontSize":7.5},"encoding":{"x":{"datum":-72.12,"type":"quantitative","axis":null},"text":{"field":"label"}}},
{"transform":[{"filter":"datum.kind=='header'"}],"mark":{"type":"text","align":"right","fontWeight":"bold","fontSize":7.5},"encoding":{"x":{"datum":68.88,"type":"quantitative","axis":null},"text":{"field":"ci"}}},
{"transform":[{"filter":"datum.kind=='header'"}],"mark":{"type":"text","align":"center","fontWeight":"bold","fontSize":7.5},"encoding":{"x":{"datum":78.56,"type":"quantitative","axis":null},"text":{"field":"wh"}}},
{"transform":[{"filter":"datum.kind=='header'"}],"mark":{"type":"text","align":"left","fontSize":23},"encoding":{"x":{"datum":-82.62,"type":"quantitative","axis":null},"text":{"field":"panel"}}}
]},
{"width":390,"height":306,
"data":{"values":[
{"row":-1.236,"kind":"header","label":"Study ID","ci":"WMD (95% CI)","wh":"% Weight","panel":"F"},
{"row":0,"kind":"group","label":"Toronto"},
{"row":1,"kind":"study","label":"Koch A (2018","est":7.75,"lo":-0.81,"hi":16.31,"w":7.46,"ci":"7.75 (−0.81, 16.31)"},
{"row":2,"kind":"study","label":"Zhang ZL (2018)","est":-6,"lo":-10.61,"hi":-1.39,"w":9.55,"ci":"−6.00 (−10.61, −1.39)"},
{"row":3,"kind":"study","label":"Slama A (2017)","est":4,"lo":-5.5,"hi":13.5,"w":6.96,"ci":"4.00 (−5.50, 13.50)"},
{"row":4,"kind":"study","label":"Machuca TN (2015)","est":-5,"lo":-7.47,"hi":-2.53,"w":10.39,"ci":"−5.00 (−7.47, 2.53)"},
{"row":5,"kind":"study","label":"Sanchez PG (2014)","est":2,"lo":-20.75,"hi":24.75,"w":2.6,"ci":"2.00 (−20.75, 24.75)"},
{"row":6,"kind":"study","label":"Sage E (2014)","est":9,"lo":-0.21,"hi":18.21,"w":7.11,"ci":"9.00 (−0.21, 18.21)"},
{"row":7,"kind":"study","label":"Cypel M (2012)","est":-3,"lo":-15,"hi":9,"w":5.74,"ci":"−3.00 (−15.00, 9.00)"},
{"row":8,"kind":"study","label":"Zych B (2012)","est":5.13,"lo":-4.78,"hi":15.04,"w":6.75,"ci":"5.13 (−4.78, 15.04)"},
{"row":9,"kind":"study","label":"Aigner C (2012)","est":7.75,"lo":-1.07,"hi":16.57,"w":7.32,"ci":"7.75 (−1.07, 16.57)"},
{"row":10,"kind":"sub","label":"Subtotal (I-squared=70.4%, p=0.001)","est":1.62,"lo":-2.97,"hi":6.22,"w":63.87,"ci":"1.62 (−2.97, 6.22)"},
{"row":11.6,"kind":"group","label":"Lund"},
{"row":12.96,"kind":"study","label":"Nilsson T (2018)","est":2,"lo":-6.12,"hi":10.12,"w":7.69,"ci":"2.00 (−6.12, 10.12)"},
{"row":14.28,"kind":"study","label":"Fisher A (2016)","est":15,"lo":5.02,"hi":24.98,"w":6.71,"ci":"15.00 (5.02, 24.98)"},
{"row":15.6,"kind":"study","label":"Fildes JE (2015)","est":15.36,"lo":5.14,"hi":25.58,"w":6.59,"ci":"15.36 (5.14, 25.58)"},
{"row":16.9,"kind":"study","label":"Wallinder A (2014)","est":16.5,"lo":-2.43,"hi":33.43,"w":3.65,"ci":"16.50 (−2.43, 33.43)"},
{"row":18.16,"kind":"study","label":"Lindstedt S (2011)","est":0.06,"lo":-11.23,"hi":11.35,"w":6.07,"ci":"0.06 (−11.23, 11.35)"},
{"row":19.5,"kind":"sub","label":"Subtotal (I-squared=53.2%, p=0.074)","est":8.86,"lo":1.76,"hi":15.96,"w":30.71,"ci":"8.86 (1.76, 15.96)"},
{"row":21.3,"kind":"group","label":"OCS"},
{"row":22.4,"kind":"study","label":"Luc JGY (2017)","est":-4,"lo":-16.75,"hi":8.75,"w":5.42,"ci":"−4.00 (−16.75, 8.75)"},
{"row":23.4,"kind":"sub","label":"Subtotal (I-squared=.%, p=.)","est":-4,"lo":-16.75,"hi":8.75,"w":5.42,"ci":"−4.00 (−16.75, 8.75)"},
{"row":25.3,"kind":"overall","label":"Overall  (I-squared=73.8%, p=0.000)","est":3.72,"lo":-0.49,"hi":7.93,"w":100,"ci":"3.72 (−0.49, 7.93)"},
{"row":26.5,"kind":"note","label":"Weights are from random effects analysis"}
]},
"encoding":{"y":{"field":"row","type":"quantitative","axis":null,"scale":{"domain":[-9.208,27.53],"reverse":true,"nice":false,"zero":false}}},
"layer":[
{"transform":[{"filter":"datum.kind=='overall'"}],"mark":{"type":"rule","color":"#111","strokeWidth":1},"encoding":{"x":{"datum":0,"type":"quantitative","scale":{"domain":[-77.45,78.24],"nice":false,"zero":false},"axis":{"values":[-33.4,0,33.4],"title":null,"labelExpr":"datum.value==0?'0':format(datum.value,'.1f')"}},"y":{"datum":-0.636,"type":"quantitative","axis":null},"y2":{"datum":27.53}}},
{"transform":[{"filter":"datum.kind=='overall'"}],"mark":{"type":"rule","color":"#b3261e","strokeWidth":1,"strokeDash":[3,2]},"encoding":{"x":{"field":"est","type":"quantitative","axis":null},"y":{"datum":-0.636,"type":"quantitative","axis":null},"y2":{"datum":27.53}}},
{"transform":[{"filter":"datum.kind=='header'"}],"mark":{"type":"rule","color":"#8c8c8c","strokeWidth":1},"encoding":{"x":{"datum":-63.07,"type":"quantitative","axis":null},"x2":{"datum":68.54},"y":{"datum":-0.636,"type":"quantitative","axis":null}}},
{"transform":[{"filter":"datum.kind=='header'"}],"mark":{"type":"rule","color":"#333","strokeWidth":1.2},"encoding":{"x":{"datum":-63.07,"type":"quantitative","axis":null},"x2":{"datum":68.54},"y":{"datum":27.53,"type":"quantitative","axis":null}}},
{"transform":[{"filter":"datum.kind=='study'"}],"mark":{"type":"point","shape":"square","color":"#bdbdbd"},"encoding":{"x":{"field":"est","type":"quantitative","axis":null},"size":{"field":"w","type":"quantitative","legend":null,"scale":{"domain":[0,100],"range":[0,500]}}}},
{"transform":[{"filter":"datum.kind=='study'"}],"mark":{"type":"rule"},"encoding":{"x":{"field":"lo","type":"quantitative","axis":null},"x2":{"field":"hi"}}},
{"transform":[{"filter":"datum.kind=='study'"}],"mark":{"type":"point","shape":"diamond","color":"#000","size":12},"encoding":{"x":{"field":"est","type":"quantitative","axis":null}}},
{"transform":[{"filter":"datum.kind=='sub'||datum.kind=='overall'"}],"mark":{"type":"rule","color":"#1c1c6c","strokeWidth":1.3,"y2Offset":-4},"encoding":{"x":{"field":"lo","type":"quantitative","axis":null},"x2":{"field":"est"},"y2":{"field":"row"}}},
{"transform":[{"filter":"datum.kind=='sub'||datum.kind=='overall'"}],"mark":{"type":"rule","color":"#1c1c6c","strokeWidth":1.3,"yOffset":-4},"encoding":{"x":{"field":"est","type":"quantitative","axis":null},"x2":{"field":"hi"},"y2":{"field":"row"}}},
{"transform":[{"filter":"datum.kind=='sub'||datum.kind=='overall'"}],"mark":{"type":"rule","color":"#1c1c6c","strokeWidth":1.3,"y2Offset":4},"encoding":{"x":{"field":"hi","type":"quantitative","axis":null},"x2":{"field":"est"},"y2":{"field":"row"}}},
{"transform":[{"filter":"datum.kind=='sub'||datum.kind=='overall'"}],"mark":{"type":"rule","color":"#1c1c6c","strokeWidth":1.3,"yOffset":4},"encoding":{"x":{"field":"est","type":"quantitative","axis":null},"x2":{"field":"lo"},"y2":{"field":"row"}}},
{"transform":[{"filter":"datum.kind!='header'"}],"mark":{"type":"text","align":"left","fontSize":7},"encoding":{"x":{"datum":-62.16,"type":"quantitative","axis":null},"text":{"field":"label"}}},
{"transform":[{"filter":"isValid(datum.ci)&&datum.kind!='header'"}],"mark":{"type":"text","align":"right"},"encoding":{"x":{"datum":50.98,"type":"quantitative","axis":null},"text":{"field":"ci"}}},
{"transform":[{"filter":"isValid(datum.w)"}],"mark":{"type":"text","align":"center"},"encoding":{"x":{"datum":62.28,"type":"quantitative","axis":null},"text":{"field":"w","type":"quantitative","format":".2f"}}},
{"transform":[{"filter":"datum.kind=='header'"}],"mark":{"type":"text","align":"left","fontWeight":"bold","fontSize":7.5},"encoding":{"x":{"datum":-62.16,"type":"quantitative","axis":null},"text":{"field":"label"}}},
{"transform":[{"filter":"datum.kind=='header'"}],"mark":{"type":"text","align":"right","fontWeight":"bold","fontSize":7.5},"encoding":{"x":{"datum":49.5,"type":"quantitative","axis":null},"text":{"field":"ci"}}},
{"transform":[{"filter":"datum.kind=='header'"}],"mark":{"type":"text","align":"center","fontWeight":"bold","fontSize":7.5},"encoding":{"x":{"datum":60.96,"type":"quantitative","axis":null},"text":{"field":"wh"}}},
{"transform":[{"filter":"datum.kind=='header'"}],"mark":{"type":"text","align":"left","fontSize":23},"encoding":{"x":{"datum":-79.84,"type":"quantitative","axis":null},"text":{"field":"panel"}}}
]},
{"width":390,"height":325,
"data":{"values":[
{"row":-1.2,"kind":"header","label":"Study ID","ci":"WMD (95% CI)","wh":"% Weight","panel":"G"},
{"row":0,"kind":"group","label":"Lund"},
{"row":1,"kind":"study","label":"Nilsson T_12 months (2018)","est":-6,"lo":-14.33,"hi":2.33,"w":12.34,"ci":"−6.00 (−14.33, 2.33)"},
{"row":2,"kind":"study","label":"Fisher A_1 month (2016)","est":-4.72,"lo":-11.31,"hi":1.81,"w":19.9,"ci":"−4.72 (−11.31, 1.81)"},
{"row":3,"kind":"study","label":"Fisher A_3 months (2016)","est":5.75,"lo":-9.15,"hi":20.65,"w":3.86,"ci":"5.75 (−9.15, 20.65)"},
{"row":4,"kind":"study","label":"Fisher A_6 months (2016)","est":11,"lo":-4.68,"hi":26.68,"w":3.48,"ci":"11.00 (−4.68, 26.68)"},
{"row":5,"kind":"study","label":"Fisher A_12 months (2016)","est":6.5,"lo":-1.9,"hi":14.9,"w":12.15,"ci":"6.50 (−1.90, 14.90)"},
{"row":6,"kind":"study","label":"Valenza F_1 month (2014)","est":-3.42,"lo":-16.62,"hi":9.78,"w":4.92,"ci":"−3.42 (−16.62, 9.78)"},
{"row":7,"kind":"study","label":"Wallinder A_3 months (2014)","est":-13.5,"lo":-25.33,"hi":-1.67,"w":6.12,"ci":"−13.50 (−25.33, −1.67)"},
{"row":8,"kind":"sub","label":"Subtotal (I-squared=53.3%, p=0.045)","est":-2.05,"lo":-5.74,"hi":1.65,"w":62.78,"ci":"−2.05 (−5.74, 1.65)"},
{"row":9.8,"kind":"group","label":"Toronto"},
{"row":10.8,"kind":"study","label":"Zhang ZL_3 months (2018)","est":9,"lo":-8.75,"hi":26.75,"w":2.72,"ci":"9.00 (−8.75, 26.75)"},
{"row":11.8,"kind":"study","label":"Zhang ZL_6 months (2018)","est":-4,"lo":-27.06,"hi":19.06,"w":1.61,"ci":"−4.00 (−27.06, 19.06)"},
{"row":12.8,"kind":"study","label":"Zhang ZL_9 months (2018)","est":2,"lo":-16.22,"hi":20.22,"w":2.58,"ci":"2.00 (−16.22, 20.22)"},
{"row":13.8,"kind":"study","label":"Zhang ZL_12 months (2018)","est":7,"lo":-13.87,"hi":27.87,"w":1.97,"ci":"7.00 (−13.87, 27.87)"},
{"row":14.8,"kind":"study","label":"Zhang ZL_15 months (2018)","est":2,"lo":-19.18,"hi":23.18,"w":1.91,"ci":"2.00 (−19.18, 23.18)"},
{"row":15.8,"kind":"study","label":"Zhang ZL_18 months (2018)","est":10,"lo":-11.02,"hi":31.02,"w":1.94,"ci":"10.00 (−11.02, 31.02)"},
{"row":16.8,"kind":"study","label":"Zhang ZL_21 months (2018)","est":10,"lo":-11.08,"hi":31.08,"w":1.93,"ci":"10.00 (−11.08, 31.08)"},
{"row":17.8,"kind":"study","label":"Zhang ZL_24 months (2018)","est":3,"lo":-22.02,"hi":28.02,"w":1.37,"ci":"3.00 (−22.02, 28.02)"},
{"row":18.8,"kind":"study","label":"Tikkanen JM_12 months (2015","est":0.7,"lo":-5.66,"hi":7.06,"w":21.2,"ci":"0.70 (−5.66, 7.06)"},
{"row":19.75,"kind":"sub","label":"Subtotal (I-squared=0.0%, p=0.971)","est":2.64,"lo":-2.15,"hi":7.44,"w":37.22,"ci":"2.64 (−2.15, 7.44)"},
{"row":21.5,"kind":"overall","label":"Heterogenity between groups: p=0.129","est":-0.3,"lo":-3.23,"hi":2.63,"w":100,"ci":"−0.30 (−3.23, 2.63)"},
{"row":22.55,"kind":"note","label":"Overall  (I-squared=14.0%, p=0.293)"}
]},
"encoding":{"y":{"field":"row","type":"quantitative","axis":null,"scale":{"domain":[-11.9,23.58],"reverse":true,"nice":false,"zero":false}}},
"layer":[
{"transform":[{"filter":"datum.kind=='overall'"}],"mark":{"type":"rule","color":"#111","strokeWidth":1},"encoding":{"x":{"datum":0,"type":"quantitative","scale":{"domain":[-70.83,75.56],"nice":false,"zero":false},"axis":{"values":[-31.1,0,31.1],"title":null,"labelExpr":"datum.value==0?'0':format(datum.value,'.1f')"}},"y":{"datum":-0.579,"type":"quantitative","axis":null},"y2":{"datum":23.58}}},
{"transform":[{"filter":"datum.kind=='overall'"}],"mark":{"type":"rule","color":"#b3261e","strokeWidth":1,"strokeDash":[3,2]},"encoding":{"x":{"field":"est","type":"quantitative","axis":null},"y":{"datum":-0.579,"type":"quantitative","axis":null},"y2":{"datum":23.58}}},
{"transform":[{"filter":"datum.kind=='header'"}],"mark":{"type":"rule","color":"#8c8c8c","strokeWidth":1},"encoding":{"x":{"datum":-61.45,"type":"quantitative","axis":null},"x2":{"datum":62.43},"y":{"datum":-0.579,"type":"quantitative","axis":null}}},
{"transform":[{"filter":"datum.kind=='header'"}],"mark":{"type":"rule","color":"#333","strokeWidth":1.2},"encoding":{"x":{"datum":-61.45,"type":"quantitative","axis":null},"x2":{"datum":62.43},"y":{"datum":23.58,"type":"quantitative","axis":null}}},
{"transform":[{"filter":"datum.kind=='study'"}],"mark":{"type":"point","shape":"square","color":"#bdbdbd"},"encoding":{"x":{"field":"est","type":"quantitative","axis":null},"size":{"field":"w","type":"quantitative","legend":null,"scale":{"domain":[0,100],"range":[0,1060]}}}},
{"transform":[{"filter":"datum.kind=='study'"}],"mark":{"type":"rule"},"encoding":{"x":{"field":"lo","type":"quantitative","axis":null},"x2":{"field":"hi"}}},
{"transform":[{"filter":"datum.kind=='study'"}],"mark":{"type":"point","shape":"diamond","color":"#000","size":12},"encoding":{"x":{"field":"est","type":"quantitative","axis":null}}},
{"transform":[{"filter":"datum.kind=='sub'||datum.kind=='overall'"}],"mark":{"type":"rule","color":"#1c1c6c","strokeWidth":1.3,"y2Offset":-4.5},"encoding":{"x":{"field":"lo","type":"quantitative","axis":null},"x2":{"field":"est"},"y2":{"field":"row"}}},
{"transform":[{"filter":"datum.kind=='sub'||datum.kind=='overall'"}],"mark":{"type":"rule","color":"#1c1c6c","strokeWidth":1.3,"yOffset":-4.5},"encoding":{"x":{"field":"est","type":"quantitative","axis":null},"x2":{"field":"hi"},"y2":{"field":"row"}}},
{"transform":[{"filter":"datum.kind=='sub'||datum.kind=='overall'"}],"mark":{"type":"rule","color":"#1c1c6c","strokeWidth":1.3,"y2Offset":4.5},"encoding":{"x":{"field":"hi","type":"quantitative","axis":null},"x2":{"field":"est"},"y2":{"field":"row"}}},
{"transform":[{"filter":"datum.kind=='sub'||datum.kind=='overall'"}],"mark":{"type":"rule","color":"#1c1c6c","strokeWidth":1.3,"yOffset":4.5},"encoding":{"x":{"field":"est","type":"quantitative","axis":null},"x2":{"field":"lo"},"y2":{"field":"row"}}},
{"transform":[{"filter":"datum.kind!='header'"}],"mark":{"type":"text","align":"left","fontSize":7},"encoding":{"x":{"datum":-60.81,"type":"quantitative","axis":null},"text":{"field":"label"}}},
{"transform":[{"filter":"isValid(datum.ci)&&datum.kind!='header'"}],"mark":{"type":"text","align":"right"},"encoding":{"x":{"datum":51.16,"type":"quantitative","axis":null},"text":{"field":"ci"}}},
{"transform":[{"filter":"isValid(datum.w)"}],"mark":{"type":"text","align":"center"},"encoding":{"x":{"datum":56.8,"type":"quantitative","axis":null},"text":{"field":"w","type":"quantitative","format":".2f"}}},
{"transform":[{"filter":"datum.kind=='header'"}],"mark":{"type":"text","align":"left","fontWeight":"bold","fontSize":7.5},"encoding":{"x":{"datum":-60.81,"type":"quantitative","axis":null},"text":{"field":"label"}}},
{"transform":[{"filter":"datum.kind=='header'"}],"mark":{"type":"text","align":"right","fontWeight":"bold","fontSize":7.5},"encoding":{"x":{"datum":48.54,"type":"quantitative","axis":null},"text":{"field":"ci"}}},
{"transform":[{"filter":"datum.kind=='header'"}],"mark":{"type":"text","align":"center","fontWeight":"bold","fontSize":7.5},"encoding":{"x":{"datum":56.04,"type":"quantitative","axis":null},"text":{"field":"wh"}}},
{"transform":[{"filter":"datum.kind=='header'"}],"mark":{"type":"text","align":"left","fontSize":23},"encoding":{"x":{"datum":-68.96,"type":"quantitative","axis":null},"text":{"field":"panel"}}}
]},
{"width":390,"height":325,
"data":{"values":[
{"row":-0.79,"kind":"header","label":"Study ID","ci":"WMD (95% CI)","wh":"% Weight","panel":"H"},
{"row":0,"kind":"group","label":"Toronto"},
{"row":1,"kind":"study","label":"Zhang ZL_3 months (2018)","est":9,"lo":-9.07,"hi":27.07,"w":10.54,"ci":"9.00 (−9.07, 27.07)"},
{"row":2,"kind":"study","label":"Zhang ZL_6 months (2018)","est":1,"lo":-19.15,"hi":21.15,"w":8.47,"ci":"1.00 (−19.15, 21.15)"},
{"row":3,"kind":"study","label":"Zhang ZL_9 months (2018)","est":-1,"lo":-19.6,"hi":17.6,"w":9.94,"ci":"−1.00 (−19.60, 17.60)"},
{"row":4,"kind":"study","label":"Zhang ZL_12 months (2018)","est":1,"lo":-19.06,"hi":21.06,"w":8.55,"ci":"1.00 (−19.06, 21.06)"},
{"row":5,"kind":"study","label":"Zhang ZL_15 months (2018)","est":4,"lo":-14.58,"hi":22.58,"w":9.96,"ci":"4.00 (−14.58, 22.58)"},
{"row":6,"kind":"study","label":"Zhang ZL_18 months (2018)","est":-1,"lo":-19.7,"hi":17.7,"w":9.83,"ci":"−1.00 (−19.70, 17.70)"},
{"row":7,"kind":"study","label":"Zhang ZL_21 months (2018)","est":0,"lo":-17.9,"hi":17.9,"w":10.74,"ci":"0.00 (−17.90, 17.90)"},
{"row":8,"kind":"study","label":"Zhang ZL_24 months (2018)","est":-8,"lo":-28.89,"hi":12.89,"w":7.88,"ci":"−8.00 (−28.89, 12.89)"},
{"row":9.15,"kind":"sub","label":"Subtotal (I-squared=0.0%, p=0.9761)","est":0.91,"lo":-5.83,"hi":7.64,"w":75.91,"ci":"0.91 (−5.83, 7.64)"},
{"row":11.18,"kind":"group","label":"Lund"},
{"row":12.07,"kind":"study","label":"Valenza F_1 month (2014)","est":-3.11,"lo":-15.06,"hi":8.84,"w":24.09,"ci":"−3.11 (−15.06, 8.84)"},
{"row":13.07,"kind":"sub","label":"Subtotal (I-squared=.%, p=.)","est":-3.11,"lo":-15.06,"hi":8.84,"w":24.09,"ci":"−3.11 (−15.06, 8.84)"},
{"row":16.23,"kind":"overall","label":"Heterogenity between groups: p=0.566","est":-0.06,"lo":-5.93,"hi":5.8,"w":100,"ci":"−0.06 (−5.93, 5.80 )"},
{"row":17.02,"kind":"note","label":"Overall  (I-squared=0.0%, p=0.981)"}
]},
"encoding":{"y":{"field":"row","type":"quantitative","axis":null,"scale":{"domain":[-8.792,18.292],"reverse":true,"nice":false,"zero":false}}},
"layer":[
{"transform":[{"filter":"datum.kind=='overall'"}],"mark":{"type":"rule","color":"#777","strokeWidth":1.5},"encoding":{"x":{"datum":0,"type":"quantitative","scale":{"domain":[-68.47,68.47],"nice":false,"zero":false},"axis":{"values":[-28.9,0,28.9],"title":null,"labelExpr":"datum.value==0?'0':format(datum.value,'.1f')"}},"y":{"datum":-0.33,"type":"quantitative","axis":null},"y2":{"datum":18.292}}},
{"transform":[{"filter":"datum.kind=='overall'"}],"mark":{"type":"rule","color":"#b3261e","strokeWidth":1,"strokeDash":[3,2]},"encoding":{"x":{"field":"est","type":"quantitative","axis":null},"y":{"datum":-0.33,"type":"quantitative","axis":null},"y2":{"datum":18.292}}},
{"transform":[{"filter":"datum.kind=='header'"}],"mark":{"type":"rule","color":"#8c8c8c","strokeWidth":1},"encoding":{"x":{"datum":-56.18,"type":"quantitative","axis":null},"x2":{"datum":59.69},"y":{"datum":-0.33,"type":"quantitative","axis":null}}},
{"transform":[{"filter":"datum.kind=='header'"}],"mark":{"type":"rule","color":"#333","strokeWidth":1.2},"encoding":{"x":{"datum":-56.18,"type":"quantitative","axis":null},"x2":{"datum":59.69},"y":{"datum":18.292,"type":"quantitative","axis":null}}},
{"transform":[{"filter":"datum.kind=='study'"}],"mark":{"type":"point","shape":"square","color":"#bdbdbd"},"encoding":{"x":{"field":"est","type":"quantitative","axis":null},"size":{"field":"w","type":"quantitative","legend":null,"scale":{"domain":[0,100],"range":[0,200]}}}},
{"transform":[{"filter":"datum.kind=='study'"}],"mark":{"type":"rule"},"encoding":{"x":{"field":"lo","type":"quantitative","axis":null},"x2":{"field":"hi"}}},
{"transform":[{"filter":"datum.kind=='study'"}],"mark":{"type":"point","shape":"diamond","color":"#000","size":12},"encoding":{"x":{"field":"est","type":"quantitative","axis":null}}},
{"transform":[{"filter":"datum.kind=='sub'||datum.kind=='overall'"}],"mark":{"type":"rule","color":"#1c1c6c","strokeWidth":1.3,"y2Offset":-5.5},"encoding":{"x":{"field":"lo","type":"quantitative","axis":null},"x2":{"field":"est"},"y2":{"field":"row"}}},
{"transform":[{"filter":"datum.kind=='sub'||datum.kind=='overall'"}],"mark":{"type":"rule","color":"#1c1c6c","strokeWidth":1.3,"yOffset":-5.5},"encoding":{"x":{"field":"est","type":"quantitative","axis":null},"x2":{"field":"hi"},"y2":{"field":"row"}}},
{"transform":[{"filter":"datum.kind=='sub'||datum.kind=='overall'"}],"mark":{"type":"rule","color":"#1c1c6c","strokeWidth":1.3,"y2Offset":5.5},"encoding":{"x":{"field":"hi","type":"quantitative","axis":null},"x2":{"field":"est"},"y2":{"field":"row"}}},
{"transform":[{"filter":"datum.kind=='sub'||datum.kind=='overall'"}],"mark":{"type":"rule","color":"#1c1c6c","strokeWidth":1.3,"yOffset":5.5},"encoding":{"x":{"field":"est","type":"quantitative","axis":null},"x2":{"field":"lo"},"y2":{"field":"row"}}},
{"transform":[{"filter":"datum.kind!='header'"}],"mark":{"type":"text","align":"left","fontSize":7},"encoding":{"x":{"datum":-55.83,"type":"quantitative","axis":null},"text":{"field":"label"}}},
{"transform":[{"filter":"isValid(datum.ci)&&datum.kind!='header'"}],"mark":{"type":"text","align":"right"},"encoding":{"x":{"datum":45.65,"type":"quantitative","axis":null},"text":{"field":"ci"}}},
{"transform":[{"filter":"isValid(datum.w)"}],"mark":{"type":"text","align":"center"},"encoding":{"x":{"datum":55.02,"type":"quantitative","axis":null},"text":{"field":"w","type":"quantitative","format":".2f"}}},
{"transform":[{"filter":"datum.kind=='header'"}],"mark":{"type":"text","align":"left","fontWeight":"bold","fontSize":7.5},"encoding":{"x":{"datum":-55.83,"type":"quantitative","axis":null},"text":{"field":"label"}}},
{"transform":[{"filter":"datum.kind=='header'"}],"mark":{"type":"text","align":"right","fontWeight":"bold","fontSize":7.5},"encoding":{"x":{"datum":46.24,"type":"quantitative","axis":null},"text":{"field":"ci"}}},
{"transform":[{"filter":"datum.kind=='header'"}],"mark":{"type":"text","align":"center","fontWeight":"bold","fontSize":7.5},"encoding":{"x":{"datum":53.55,"type":"quantitative","axis":null},"text":{"field":"wh"}}},
{"transform":[{"filter":"datum.kind=='header'"}],"mark":{"type":"text","align":"left","fontSize":23},"encoding":{"x":{"datum":-70.58,"type":"quantitative","axis":null},"text":{"field":"panel"}}}
]}
]
}
